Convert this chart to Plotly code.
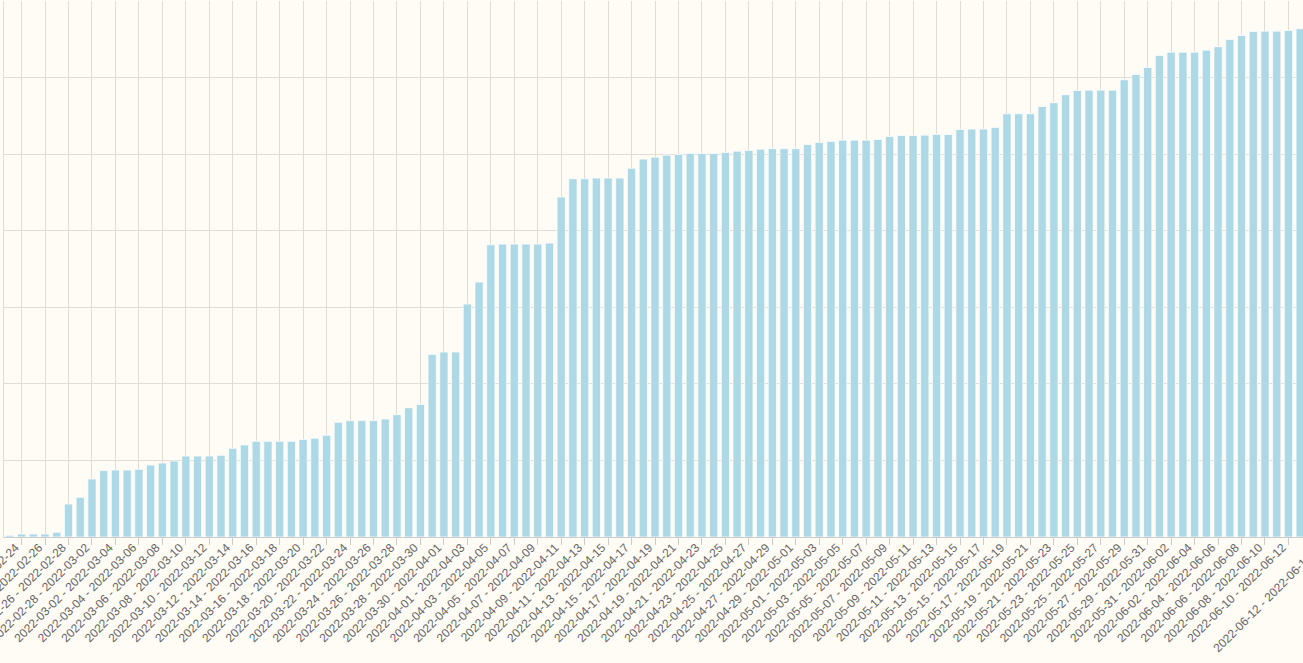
import plotly.graph_objects as go
import pandas as pd

# Category labels: two-day windows, one per bar
start_dates = pd.date_range("2022-02-21", periods=112, freq="D")
end_dates = start_dates + pd.Timedelta(days=2)
categories = [f"{s:%Y-%m-%d} - {e:%Y-%m-%d}" for s, e in zip(start_dates, end_dates)]

# Bar values (one gridline step = 1000)
values = [
    22, 39, 39, 39, 61, 431, 518, 757, 867, 875,
    875, 884, 940, 966, 992, 1057, 1057, 1057, 1067, 1158,
    1201, 1249, 1249, 1249, 1249, 1272, 1289, 1328, 1497, 1520,
    1520, 1520, 1540, 1598, 1689, 1732, 2385, 2415, 2415, 3042,
    3329, 3817, 3825, 3825, 3825, 3825, 3838, 4439, 4679, 4679,
    4687, 4687, 4687, 4817, 4935, 4961, 4987, 4996, 5009, 5009,
    5009, 5022, 5039, 5048, 5065, 5071, 5071, 5071, 5127, 5153,
    5166, 5183, 5183, 5183, 5192, 5231, 5244, 5244, 5248, 5257,
    5257, 5323, 5327, 5327, 5349, 5527, 5527, 5527, 5623, 5671,
    5776, 5832, 5836, 5836, 5836, 5971, 6041, 6132, 6289, 6332,
    6332, 6332, 6358, 6402, 6498, 6550, 6602, 6606, 6606, 6615,
    6637, 6650,
]

tick_labels = categories[1::2]

X_RANGE = [-0.5, 110.24]
Y_RANGE = [0, 7000]
Y_STEP = 1000

GRID = "#e2dcd5"
BG = "#fffbf5"
LABEL_FONT = dict(family="Liberation Sans, Arial, sans-serif", size=12, color="#666666")

fig = go.Figure(
    go.Bar(
        x=categories,
        y=values,
        marker=dict(color="#add8e6", line=dict(color="rgba(255,255,255,0.7)", width=1)),
        hoverinfo="x+y",
    )
)

fig.update_layout(
    width=1303,
    height=663,
    margin=dict(l=4, r=0, t=1, b=126),
    paper_bgcolor=BG,
    plot_bgcolor=BG,
    bargap=0.3,
    showlegend=False,
    font=LABEL_FONT,
)

fig.update_xaxes(
    type="category",
    range=X_RANGE,
    tickmode="array",
    tickvals=tick_labels,
    ticktext=tick_labels,
    tickangle=-45,
    ticks="outside",
    ticklen=7,
    tickcolor="#cccccc",
    ticklabelstandoff=-9,
    ticklabelshift=-6,
    showline=True,
    linecolor="#cccccc",
    showgrid=True,
    gridcolor=GRID,
    automargin=False,
)

fig.update_yaxes(
    range=Y_RANGE,
    dtick=Y_STEP,
    showticklabels=False,
    showgrid=True,
    gridcolor=GRID,
    showline=True,
    linecolor=GRID,
    zeroline=False,
    automargin=False,
)

# Last (partly visible) tick label lies just beyond the visible range
last_idx = len(categories) - 1
x_frac = (last_idx - X_RANGE[0]) / (X_RANGE[1] - X_RANGE[0])
fig.add_annotation(
    x=x_frac,
    xref="paper",
    y=0,
    yref="paper",
    text=categories[last_idx],
    textangle=-45,
    showarrow=False,
    xanchor="right",
    yanchor="top",
    xshift=6,
    yshift=-11,
    font=LABEL_FONT,
)

fig.write_html("out.html")
